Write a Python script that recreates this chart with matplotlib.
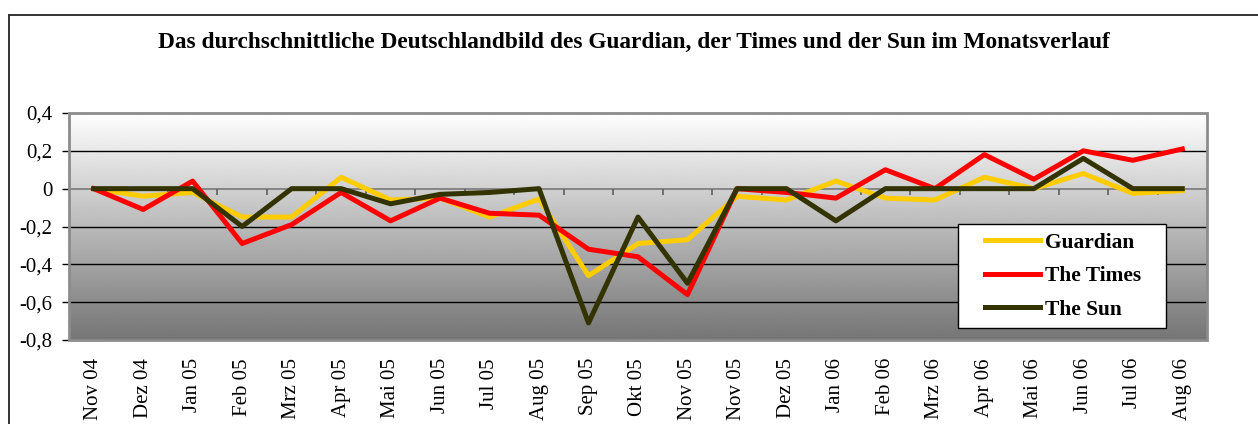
import numpy as np
import matplotlib
matplotlib.use('Agg')
import matplotlib.pyplot as plt
from matplotlib.lines import Line2D
from matplotlib.patches import Rectangle
from matplotlib.legend_handler import HandlerLine2D

# DATA
months = ['Nov 04', 'Dez 04', 'Jan 05', 'Feb 05', 'Mrz 05', 'Apr 05', 'Mai 05',
          'Jun 05', 'Jul 05', 'Aug 05', 'Sep 05', 'Okt 05', 'Nov 05', 'Nov 05',
          'Dez 05', 'Jan 06', 'Feb 06', 'Mrz 06', 'Apr 06', 'Mai 06', 'Jun 06',
          'Jul 06', 'Aug 06']
guardian = [0, -0.04, -0.02, -0.15, -0.15, 0.06, -0.06, -0.05, -0.15, -0.055,
            -0.46, -0.29, -0.27, -0.04, -0.06, 0.04, -0.05, -0.06, 0.06, 0,
            0.08, -0.025, -0.01]
times = [0, -0.11, 0.04, -0.29, -0.19, -0.02, -0.17, -0.05, -0.13, -0.14,
         -0.32, -0.36, -0.56, 0, -0.02, -0.05, 0.10, 0, 0.18, 0.05,
         0.20, 0.15, 0.21]
sun = [0, 0, 0, -0.20, 0, 0, -0.08, -0.03, -0.02, 0,
       -0.71, -0.15, -0.50, 0, 0, -0.17, 0, 0, 0, 0,
       0.16, 0, 0]
yticks = [-0.8, -0.6, -0.4, -0.2, 0, 0.2, 0.4]
ytick_labels = ['-0,8', '-0,6', '-0,4', '-0,2', '0', '0,2', '0,4']

title = 'Das durchschnittliche Deutschlandbild des Guardian, der Times und der Sun im Monatsverlauf'

plt.rcParams['font.family'] = ['Liberation Serif', 'DejaVu Serif']

fig = plt.figure(figsize=(12.58, 4.24), dpi=100)
ax = fig.add_axes([0.0548, 0.1981, 0.9047, 0.5354])

x = np.arange(len(months))
ymin, ymax = -0.8, 0.4

# gradient background white -> gray
grad = np.linspace(1.0, 0.46, 256).reshape(-1, 1)
ax.imshow(grad, cmap='gray', vmin=0, vmax=1, aspect='auto',
          extent=(-0.5, len(months) - 0.5, ymin, ymax), zorder=0,
          interpolation='bilinear', origin='upper')

for yv in [-0.6, -0.4, -0.2, 0.2]:
    ax.axhline(yv, color='black', lw=1.0, zorder=1)
ax.axhline(0, color='#808080', lw=1.3, zorder=1)
ax.vlines(np.arange(len(months) + 1) - 0.5, -0.032, 0, color='#606060', lw=1.2, zorder=1)

ax.plot(x, guardian, color='#FFCC00', lw=3.6, label='Guardian', zorder=3)
ax.plot(x, times, color='#FF0000', lw=3.6, label='The Times', zorder=4)
ax.plot(x, sun, color='#333300', lw=3.6, label='The Sun', zorder=5)

ax.set_xlim(-0.5, len(months) - 0.5)
ax.set_ylim(ymin, ymax)
ax.set_yticks(yticks)
ax.set_yticklabels(ytick_labels, fontsize=15)
ax.tick_params(axis='y', length=5, width=1, color='black', pad=7)
ax.set_xticks(x)
ax.set_xticklabels(months, rotation=90, fontsize=15, va='top', ha='center')
ax.tick_params(axis='x', length=0, pad=13)

for s in ax.spines.values():
    s.set_visible(False)
ax.add_patch(Rectangle((0, 0), 1, 1, transform=ax.transAxes, fill=False,
                       edgecolor='#8c8c8c', lw=2, zorder=6, clip_on=False))

leg = ax.legend(loc='upper left', bbox_to_anchor=(0.781, 0.004, 0.183, 0.506),
                mode='expand', fancybox=False, shadow=False, framealpha=1,
                edgecolor='black', handlelength=3.43, handletextpad=0.25,
                labelspacing=0.63, borderpad=0.4, borderaxespad=0,
                handler_map={Line2D: HandlerLine2D(xpad=0.86)},
                prop={'weight': 'bold', 'size': 15.4})
leg.get_frame().set_linewidth(1.0)
leg.set_zorder(7)

fig.text(0.5036, 0.899, title, ha='center', va='center', fontsize=16.8,
         fontweight='bold')

# outer chart frame
fig.add_artist(Line2D([0.0072, 0.0072], [0, 0.9646], color='#333333', lw=1.4))
fig.add_artist(Line2D([0.0072, 1], [0.9646, 0.9646], color='#333333', lw=1.4))

fig.savefig('out.png', dpi=100)
